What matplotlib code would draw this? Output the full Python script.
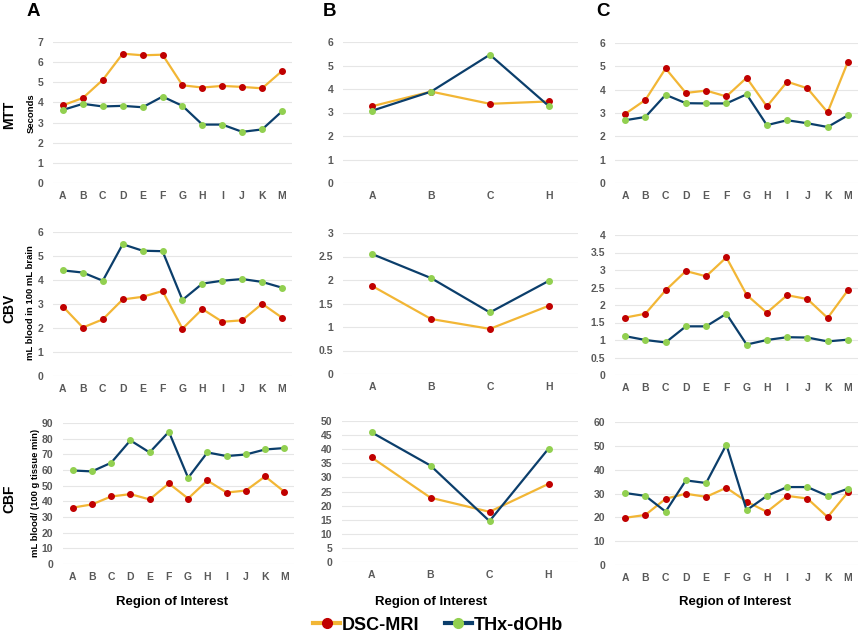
import matplotlib
matplotlib.use("Agg")
import matplotlib.pyplot as plt
from matplotlib.lines import Line2D
import numpy as np

plt.rcParams['font.family'] = ['Liberation Sans', 'DejaVu Sans']

# ---------------- data ----------------
regions_full = ["A", "B", "C", "D", "E", "F", "G", "H", "I", "J", "K", "M"]
regions_b = ["A", "B", "C", "H"]

# Column A
mtt_a_dsc = [3.86, 4.22, 5.12, 6.42, 6.34, 6.37, 4.85, 4.74, 4.82, 4.77, 4.70, 5.56]
mtt_a_thx = [3.63, 3.93, 3.80, 3.83, 3.76, 4.29, 3.83, 2.90, 2.90, 2.54, 2.66, 3.56]
cbv_a_dsc = [2.89, 2.02, 2.36, 3.19, 3.30, 3.54, 1.97, 2.79, 2.26, 2.32, 3.01, 2.43]
cbv_a_thx = [4.40, 4.31, 3.97, 5.49, 5.22, 5.20, 3.17, 3.85, 3.97, 4.04, 3.92, 3.68]
cbf_a_dsc = [36.0, 38.0, 43.1, 44.6, 41.2, 51.4, 41.8, 53.3, 45.6, 46.9, 55.9, 46.1]
cbf_a_thx = [59.7, 59.1, 64.6, 78.9, 71.2, 84.4, 55.0, 71.2, 68.9, 69.9, 73.1, 74.0]

# Column B
mtt_b_dsc = [3.27, 3.89, 3.37, 3.47]
mtt_b_thx = [3.08, 3.89, 5.46, 3.28]
cbv_b_dsc = [1.87, 1.17, 0.96, 1.45]
cbv_b_thx = [2.55, 2.04, 1.31, 1.98]
cbf_b_dsc = [37.1, 22.8, 17.8, 27.7]
cbf_b_thx = [46.0, 34.2, 14.5, 40.2]

# Column C
mtt_c_dsc = [2.96, 3.56, 4.91, 3.86, 3.96, 3.71, 4.51, 3.28, 4.34, 4.06, 3.03, 5.19]
mtt_c_thx = [2.69, 2.83, 3.78, 3.42, 3.41, 3.41, 3.80, 2.48, 2.69, 2.56, 2.40, 2.90]
cbv_c_dsc = [1.64, 1.75, 2.42, 2.97, 2.82, 3.36, 2.29, 1.78, 2.28, 2.17, 1.63, 2.42]
cbv_c_thx = [1.11, 1.00, 0.93, 1.39, 1.39, 1.75, 0.87, 1.00, 1.08, 1.07, 0.96, 1.01]
cbf_c_dsc = [19.8, 21.0, 27.8, 29.9, 28.6, 32.4, 26.6, 22.3, 29.0, 27.9, 20.1, 30.5]
cbf_c_thx = [30.2, 29.0, 22.4, 35.5, 34.4, 50.5, 23.0, 29.0, 32.7, 32.7, 29.0, 32.0]

series_names = ["DSC-MRI", "THx-dOHb"]
row_labels = ["MTT", "CBV", "CBF"]
unit_labels = ["Seconds", "mL blood in 100 mL brain", "mL blood/ (100 g tissue min)"]
col_letters = ["A", "B", "C"]
xlabel_text = "Region of Interest"

# ---------------- style ----------------
W, H = 858, 637
ORANGE = "#F2B635"
RED = "#C00000"
NAVY = "#0B3E6B"
GREEN = "#92D050"
TICK = "#595959"
GRID = "#E6E6E6"

fig = plt.figure(figsize=(W / 100, H / 100), dpi=100)

def add_ax(x0, x1, ytop, ybot):
    return fig.add_axes([x0 / W, 1 - ybot / H, (x1 - x0) / W, (ybot - ytop) / H])

col_x = [
    [(53, 292), (343, 578), (615, 858)],
    [(53, 292), (343, 578), (615, 858)],
    [(63, 294), (342, 578), (615, 858)],
]
row_y = [
    [(42, 183), (42, 183), (43, 183)],
    [(232, 376), (233, 374), (235, 375)],
    [(423, 564), (421, 562), (422, 565)],
]
ylims = [[7, 6, 6], [6, 3, 4], [90, 50, 60]]
ysteps = [[1, 1, 1], [1, 0.5, 0.5], [10, 5, 10]]

data = [
    [(mtt_a_dsc, mtt_a_thx), (mtt_b_dsc, mtt_b_thx), (mtt_c_dsc, mtt_c_thx)],
    [(cbv_a_dsc, cbv_a_thx), (cbv_b_dsc, cbv_b_thx), (cbv_c_dsc, cbv_c_thx)],
    [(cbf_a_dsc, cbf_a_thx), (cbf_b_dsc, cbf_b_thx), (cbf_c_dsc, cbf_c_thx)],
]
cats = [regions_full, regions_b, regions_full]

for r in range(3):
    for c in range(3):
        x0, x1 = col_x[r][c]
        yt, yb = row_y[r][c]
        ax = add_ax(x0, x1, yt, yb)
        labels = cats[c]
        xs = np.arange(len(labels))
        dsc, thx = data[r][c]
        ax.plot(xs, dsc, color=ORANGE, lw=1.6, marker="o", ms=4,
                mfc=RED, mec=RED, zorder=3, clip_on=False)
        ax.plot(xs, thx, color=NAVY, lw=1.6, marker="o", ms=4,
                mfc=GREEN, mec=GREEN, zorder=4, clip_on=False)
        ax.set_xlim(-0.5, len(labels) - 0.5)
        ax.set_ylim(0, ylims[r][c])
        ticks = np.arange(0, ylims[r][c] + 1e-9, ysteps[r][c])
        ax.set_yticks(ticks)
        ax.set_yticklabels([("%g" % t) for t in ticks])
        ax.set_xticks(xs)
        ax.set_xticklabels(labels)
        ax.tick_params(axis="both", length=0, labelsize=7.5, colors=TICK)
        ax.tick_params(axis="y", pad=7)
        ax.tick_params(axis="x", pad=6)
        for t in ax.get_xticklabels() + ax.get_yticklabels():
            t.set_fontweight("bold")
        ax.grid(axis="y", color=GRID, lw=0.8)
        ax.set_axisbelow(True)
        for s in ax.spines.values():
            s.set_visible(False)
        ax.set_facecolor("none")

def ftext(x, y, s, **kw):
    fig.text(x / W, 1 - y / H, s, **kw)

# panel letters
for (x, y), s in zip([(27, 12), (323, 12), (596, 12)], col_letters):
    ftext(x, y, s, fontsize=13.5, fontweight="bold", ha="left", va="center")

# row labels
for y, s in zip([115, 308, 499], row_labels):
    ftext(9, y, s, fontsize=10, fontweight="bold", rotation=90, ha="center", va="center")

# unit labels
for (x, y), s in zip([(31, 113), (31, 303), (35, 493)], unit_labels):
    ftext(x, y, s, fontsize=6.8, fontweight="bold", rotation=90, ha="center", va="center")

# x labels
for x in [172, 431, 735]:
    ftext(x, 602, xlabel_text, fontsize=9.5, fontweight="bold", ha="center", va="center")

# legend
handles = [
    Line2D([0], [0], color=ORANGE, lw=3, marker="o", ms=7, mfc=RED, mec=RED),
    Line2D([0], [0], color=NAVY, lw=3, marker="o", ms=7, mfc=GREEN, mec=GREEN),
]
fig.legend(handles, series_names, loc="center", bbox_to_anchor=(438 / W, 1 - 625 / H),
           ncol=2, frameon=False, prop={"weight": "bold", "size": 13},
           handlelength=1.5, handletextpad=0.1, columnspacing=1.4)

fig.savefig("out.png", dpi=100)
